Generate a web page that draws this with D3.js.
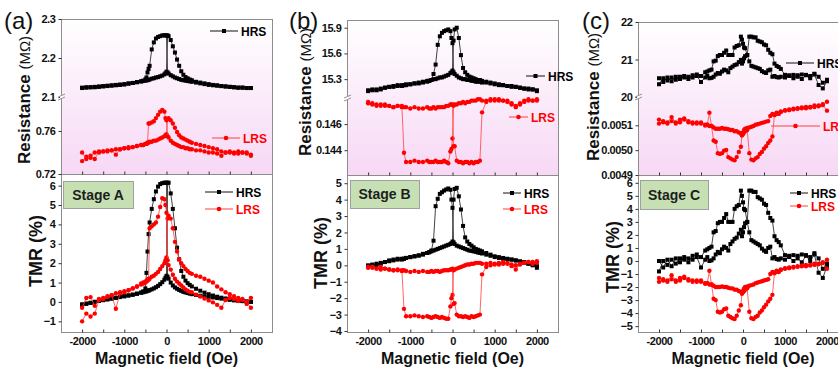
<!DOCTYPE html>
<html>
<head>
<meta charset="utf-8">
<script src="https://cdn.jsdelivr.net/npm/d3@7"></script>
<style>
  body { margin: 0; background: #fff; }
  svg { display: block; }
  text { font-family: Arial, "Liberation Sans", sans-serif; }
</style>
</head>
<body>
<svg id="canvas" width="838" height="371"></svg>
<script>
// ---------- Panel (a) ----------
const fieldA = [
  -2000,-1900,-1800,-1700,-1600,-1500,-1400,-1300,-1200,-1100,-1000,-900,-800,-700,
  -600,-550,-500,-475,-450,-425,-400,
  -350,-300,-250,-200,-150,-100,-50,
  -25,0,25,
  50,100,150,200,250,300,350,400,450,500,550,600,
  700,800,900,1000,1100,1200,1300,1400,1500,1600,1700,1800,1900,2000];

const rHrsA_up = [
  2.124,2.125,2.125,2.126,2.127,2.128,2.129,2.130,2.131,2.132,2.133,2.135,2.136,2.138,
  2.140,2.141,2.142,2.143,2.143,2.144,2.145,
  2.147,2.148,2.150,2.151,2.153,2.155,2.158,
  2.161,2.165,2.258,
  2.256,2.246,2.230,2.214,2.196,2.180,2.166,2.157,2.151,2.148,2.145,2.143,
  2.139,2.137,2.135,2.133,2.131,2.130,2.128,2.127,2.126,2.125,2.124,2.124,2.123,2.123];
const rHrsA_dn = [
  2.123,2.124,2.125,2.125,2.126,2.127,2.128,2.129,2.130,2.131,2.132,2.134,2.136,2.138,
  2.140,2.142,2.145,2.150,2.163,2.172,2.180,
  2.222,2.240,2.250,2.254,2.256,2.258,2.258,
  2.258,2.258,2.163,
  2.160,2.156,2.153,2.150,2.148,2.146,2.144,2.143,2.142,2.141,2.140,2.139,
  2.137,2.135,2.133,2.131,2.130,2.129,2.128,2.127,2.126,2.125,2.124,2.124,2.123,2.123];
const rLrsA_up = [
  0.732,0.736,0.737,0.740,0.740,0.741,0.742,0.742,0.738,0.743,0.744,0.745,0.745,0.746,
  0.747,0.747,0.748,0.748,0.749,0.749,0.750,
  0.750,0.751,0.751,0.752,0.753,0.754,0.755,
  0.756,0.757,0.771,
  0.772,0.770,0.767,0.763,0.759,0.756,0.754,0.753,0.752,0.751,0.750,0.749,
  0.748,0.747,0.746,0.745,0.744,0.743,0.741,0.740,0.740,0.739,0.739,0.740,0.739,0.738];
const rLrsA_dn = [
  0.740,0.734,0.735,0.734,0.741,0.741,0.741,0.742,0.743,0.743,0.744,0.744,0.745,0.746,
  0.747,0.747,0.748,0.748,0.749,0.767,0.767,
  0.768,0.769,0.772,0.775,0.778,0.7795,0.778,
  0.772,0.770,0.755,
  0.754,0.751,0.749,0.748,0.747,0.746,0.745,0.745,0.744,0.744,0.743,0.743,
  0.742,0.742,0.741,0.740,0.740,0.739,0.737,0.740,0.741,0.740,0.741,0.740,0.740,0.737];

const tHrsA_up = [
  -0.15,-0.1,-0.05,0,0.05,0.1,0.14,0.18,0.22,0.26,0.3,0.34,0.38,0.43,
  0.48,0.5,0.53,0.55,0.57,0.59,0.61,
  0.65,0.7,0.76,0.83,0.92,1.02,1.15,
  1.25,1.35,6.15,
  6.15,5.6,4.8,3.8,2.8,2.2,1.6,1.3,1.1,0.97,0.88,0.8,
  0.68,0.58,0.48,0.4,0.33,0.27,0.22,0.18,0.14,0.1,0.07,0.05,0.02,0.0];
const tHrsA_dn = [
  -0.12,-0.08,-0.04,0.01,0.05,0.09,0.13,0.17,0.21,0.25,0.29,0.33,0.37,0.42,
  0.48,0.55,0.7,1.5,2.6,3.5,4.1,
  4.8,5.3,5.7,5.95,6.08,6.13,6.15,
  6.15,6.15,1.3,
  1.2,1.0,0.85,0.75,0.68,0.62,0.57,0.52,0.49,0.46,0.43,0.4,
  0.36,0.32,0.29,0.26,0.23,0.2,0.17,0.14,0.11,0.08,0.06,0.04,0.02,0.0];
const tLrsA_up = [
  -1.0,-0.6,-0.75,-0.6,0.1,0.15,0.25,0.35,-0.35,0.45,0.5,0.6,0.7,0.8,
  0.9,0.95,1.0,1.05,1.1,1.15,1.2,
  1.3,1.35,1.45,1.55,1.7,1.85,2.0,
  2.15,2.3,4.3,
  4.45,4.3,3.8,3.1,2.6,2.2,2.0,1.85,1.7,1.6,1.5,1.45,
  1.35,1.3,1.2,1.1,1.0,0.8,0.65,0.5,0.4,0.3,0.2,0.15,0.0,-0.3];
const tLrsA_dn = [
  -0.3,0.2,0.25,-0.2,0.15,0.2,0.3,0.35,0.45,0.5,0.55,0.6,0.7,0.8,
  0.95,1.0,1.05,1.1,1.15,1.2,3.8,
  3.9,4.0,4.1,4.4,4.9,5.35,5.3,
  5.0,4.6,2.15,
  1.9,1.67,1.4,1.2,1.05,0.95,0.85,0.75,0.65,0.58,0.52,0.5,
  0.38,0.28,0.18,0.08,-0.02,-0.15,-0.3,0.1,0.2,0.15,0.05,0.1,-0.1,0.2];

// ---------- Panel (b) ----------
const fieldB = [
  -2000,-1900,-1800,-1700,-1600,-1500,-1400,-1300,-1200,
  -1150,-1100,-1000,-900,-800,-700,-600,
  -550,-500,-450,-400,-350,-300,-250,-200,-150,-100,-50,-25,0,
  25,50,100,150,200,250,300,350,400,450,500,550,600,
  650,700,800,900,1000,1100,1200,1300,1400,1500,1600,1700,1800,1900,2000];

const rHrsB_up = [
  15.17,15.18,15.17,15.19,15.20,15.21,15.22,15.23,15.22,
  15.23,15.24,15.24,15.25,15.26,15.27,15.28,
  15.28,15.29,15.30,15.30,15.31,15.32,15.32,15.33,15.34,15.35,15.37,15.38,15.40,
  15.75,15.88,15.90,15.78,15.58,15.43,15.38,15.35,15.33,15.32,15.31,15.30,15.29,
  15.29,15.28,15.27,15.26,15.25,15.24,15.23,15.22,15.22,15.21,15.20,15.19,15.19,15.18,15.16];
const rHrsB_dn = [
  15.16,15.17,15.18,15.18,15.20,15.21,15.21,15.22,15.23,
  15.23,15.23,15.24,15.25,15.25,15.26,15.27,
  15.28,15.29,15.36,15.47,15.70,15.80,15.84,15.86,15.87,15.88,15.86,15.78,15.72,
  15.38,15.36,15.34,15.32,15.31,15.30,15.30,15.29,15.29,15.28,15.28,15.27,15.27,
  15.27,15.26,15.26,15.25,15.24,15.23,15.23,15.22,15.21,15.21,15.20,15.19,15.18,15.18,15.17];
const rLrsB_up = [
  0.1476,0.1475,0.1474,0.1475,0.1474,0.1474,0.1473,0.1474,0.1474,
  0.1438,0.1431,0.1431,0.1432,0.1431,0.1431,0.1432,
  0.1431,0.1431,0.1431,0.1432,0.1431,0.1431,0.1431,0.1432,0.1431,0.1430,0.1439,0.1441,0.1449,
  0.1474,0.1475,0.1475,0.1476,0.1476,0.1477,0.1476,0.1477,0.1477,0.1478,0.1478,0.1478,0.1479,
  0.1479,0.1478,0.1478,0.1479,0.1478,0.1479,0.1478,0.1478,0.1476,0.1473,0.1475,0.1477,0.1478,0.1478,0.1479];
const rLrsB_dn = [
  0.1477,0.1476,0.1475,0.1474,0.1475,0.1474,0.1473,0.1474,0.1473,
  0.1473,0.1473,0.1472,0.1473,0.1472,0.1472,0.1473,
  0.1472,0.1472,0.1473,0.1472,0.1473,0.1473,0.1473,0.1473,0.1474,0.1474,0.1475,0.1475,0.1475,
  0.1443,0.1443,0.1432,0.1431,0.1431,0.1430,0.1431,0.1431,0.1430,0.1431,0.1430,0.1431,0.1431,
  0.1432,0.1469,0.1477,0.1478,0.1479,0.1478,0.1478,0.1477,0.1475,0.1474,0.1476,0.1478,0.1479,0.1478,0.1478];

const tHrsB_up = [
  -0.05,0.05,0.0,0.15,0.2,0.3,0.35,0.4,0.35,
  0.4,0.45,0.5,0.55,0.6,0.7,0.75,
  0.8,0.85,0.9,0.95,1.0,1.05,1.1,1.15,1.2,1.25,1.3,1.35,1.45,
  4.0,4.65,4.72,4.2,3.4,2.4,1.7,1.45,1.3,1.2,1.1,1.0,0.95,
  0.9,0.85,0.75,0.65,0.55,0.5,0.45,0.4,0.35,0.3,0.2,0.15,0.1,0.0,-0.15];
const tHrsB_dn = [
  0.0,0.0,0.1,0.1,0.2,0.25,0.3,0.35,0.4,
  0.4,0.45,0.5,0.55,0.6,0.65,0.75,
  0.8,0.9,1.5,3.6,4.05,4.35,4.45,4.55,4.62,4.68,4.6,4.0,3.5,
  1.4,1.3,1.2,1.15,1.1,1.05,1.0,0.95,0.9,0.88,0.85,0.82,0.78,
  0.75,0.72,0.65,0.58,0.5,0.45,0.4,0.38,0.35,0.3,0.25,0.2,0.1,0.05,0.0];
const tLrsB_up = [
  -0.1,-0.15,-0.2,-0.1,-0.2,-0.25,-0.3,-0.25,-0.3,
  -2.65,-3.1,-3.1,-3.05,-3.1,-3.15,-3.1,
  -3.15,-3.2,-3.15,-3.1,-3.15,-3.2,-3.15,-3.2,-3.25,-3.25,-2.5,-2.0,-1.8,
  -0.3,-0.25,-0.2,-0.15,-0.1,-0.05,0.0,0.05,0.05,0.1,0.1,0.15,0.15,
  0.15,0.1,0.1,0.15,0.1,0.15,0.2,0.15,-0.05,-0.25,0.05,0.15,0.2,0.2,0.25];
const tLrsB_dn = [
  -0.15,-0.1,-0.2,-0.25,-0.2,-0.25,-0.3,-0.3,-0.35,
  -0.3,-0.35,-0.4,-0.35,-0.4,-0.35,-0.4,
  -0.4,-0.35,-0.4,-0.35,-0.35,-0.4,-0.35,-0.3,-0.3,-0.3,-0.25,-0.25,-0.2,
  -2.35,-2.3,-3.0,-3.1,-3.1,-3.15,-3.1,-3.15,-3.2,-3.1,-3.15,-3.1,-3.05,
  -3.0,-0.55,-0.1,0.0,0.05,0.05,0.1,0.1,0.05,0.0,0.1,0.15,0.2,0.1,0.15];

// ---------- Panel (c) ----------
const fieldC = [
  -2000,-1900,-1800,-1700,-1600,-1500,-1400,-1300,-1200,-1100,-1000,-900,
  -850,-800,-750,-700,-650,-600,-550,-500,-450,-400,-350,-300,-250,-200,-150,-100,-50,
  -25,0,25,
  50,100,150,200,250,300,350,400,450,500,550,600,650,700,750,800,850,900,
  1000,1100,1200,1300,1400,1500,1600,1700,1800,1900,2000];

const rHrsC_up = [
  20.34,20.50,20.44,20.52,20.46,20.54,20.52,20.48,20.58,20.60,20.56,20.66,
  20.68,20.71,20.73,20.95,20.97,21.09,21.12,21.12,21.18,21.24,21.12,21.12,21.12,21.32,21.36,21.38,21.61,
  21.53,21.42,21.32,
  21.30,21.12,20.95,20.83,20.81,20.79,20.77,20.75,20.69,20.66,20.64,20.71,20.73,20.54,20.56,20.53,20.52,20.54,
  20.52,20.56,20.50,20.54,20.48,20.58,20.50,20.60,20.32,20.23,20.42];
const rHrsC_dn = [
  20.50,20.40,20.52,20.42,20.54,20.48,20.56,20.54,20.52,20.56,20.40,20.52,
  20.56,20.50,20.51,20.54,20.60,20.64,20.62,20.68,20.73,20.71,20.66,20.77,20.81,20.85,20.87,20.93,20.99,
  20.89,20.95,21.03,
  21.09,21.12,21.61,21.61,21.59,21.59,21.50,21.48,21.46,21.40,21.38,21.26,21.18,21.14,20.89,20.83,20.80,20.75,
  20.59,20.58,20.59,20.58,20.60,20.59,20.56,20.62,20.54,20.38,20.46];
const rLrsC_up = [
  0.005123,0.005117,0.005112,0.005133,0.005112,0.005123,0.005128,0.005117,0.005112,0.005107,0.005112,0.005102,
  0.005102,0.005097,0.005097,0.005039,0.005034,0.004988,0.004985,0.004988,0.004998,0.005001,0.004972,0.004967,0.004962,0.004959,0.004972,0.004993,0.005014,
  0.005060,0.005071,0.005081,
  0.005086,0.005089,0.005091,0.005094,0.005097,0.005102,0.005104,0.005107,0.005110,0.005112,0.005115,0.005117,0.005138,0.005146,0.005141,0.005148,0.005146,0.005154,
  0.005159,0.005161,0.005164,0.005167,0.005169,0.005169,0.005172,0.005174,0.005177,0.005182,0.005159];
const rLrsC_dn = [
  0.005107,0.005112,0.005107,0.005117,0.005107,0.005112,0.005123,0.005112,0.005107,0.005112,0.005107,0.005099,
  0.005102,0.005151,0.005097,0.005091,0.005086,0.005086,0.005086,0.005089,0.005086,0.005086,0.005084,0.005081,0.005081,0.005076,0.005076,0.005071,0.005068,
  0.005060,0.005065,0.005071,
  0.005076,0.005081,0.004988,0.004962,0.004959,0.004967,0.004972,0.004985,0.004993,0.005006,0.005016,0.005029,0.005039,0.005055,0.005143,0.005151,0.005148,0.005156,
  0.005161,0.005164,0.005167,0.005169,0.005172,0.005174,0.005174,0.005180,0.005180,0.005185,0.005195];

const tHrsC_up = [
  -0.8,0.0,-0.3,0.1,-0.2,0.2,0.1,-0.1,0.4,0.5,0.3,0.8,
  0.9,1.0,1.1,2.2,2.3,2.9,3.0,3.0,3.3,3.6,3.0,3.0,3.0,4.0,4.2,4.3,5.4,
  5.0,4.5,4.0,
  3.9,3.0,2.2,1.6,1.5,1.4,1.3,1.2,0.95,0.8,0.7,1.0,1.1,0.2,0.3,0.15,0.1,0.2,
  0.1,0.3,0.0,0.2,-0.1,0.4,0.0,0.5,-0.9,-1.3,-0.4];
const tHrsC_dn = [
  0.0,-0.5,0.1,-0.4,0.2,-0.1,0.3,0.2,0.1,0.3,-0.5,0.1,
  0.3,0.0,0.05,0.2,0.5,0.7,0.6,0.9,1.1,1.0,0.8,1.3,1.5,1.7,1.8,2.1,2.4,
  1.9,2.2,2.6,
  2.9,3.0,5.4,5.4,5.3,5.3,4.9,4.8,4.7,4.4,4.3,3.7,3.3,3.1,1.9,1.6,1.45,1.2,
  0.45,0.4,0.45,0.4,0.5,0.45,0.3,0.6,0.2,-0.6,-0.2];
const tLrsC_up = [
  -1.3,-1.4,-1.5,-1.1,-1.5,-1.3,-1.2,-1.4,-1.5,-1.6,-1.5,-1.7,
  -1.7,-1.8,-1.8,-2.9,-3.0,-3.9,-3.95,-3.9,-3.7,-3.65,-4.2,-4.3,-4.4,-4.45,-4.2,-3.8,-3.4,
  -2.5,-2.3,-2.1,
  -2.0,-1.95,-1.9,-1.85,-1.8,-1.7,-1.65,-1.6,-1.55,-1.5,-1.45,-1.4,-1.0,-0.85,-0.95,-0.8,-0.85,-0.7,
  -0.6,-0.55,-0.5,-0.45,-0.4,-0.4,-0.35,-0.3,-0.25,-0.15,-0.6];
const tLrsC_dn = [
  -1.6,-1.5,-1.6,-1.4,-1.6,-1.5,-1.3,-1.5,-1.6,-1.5,-1.6,-1.75,
  -1.7,-0.75,-1.8,-1.9,-2.0,-2.0,-2.0,-1.95,-2.0,-2.0,-2.05,-2.1,-2.1,-2.2,-2.2,-2.3,-2.35,
  -2.5,-2.4,-2.3,
  -2.2,-2.1,-3.9,-4.4,-4.45,-4.3,-4.2,-3.95,-3.8,-3.55,-3.35,-3.1,-2.9,-2.6,-0.9,-0.75,-0.8,-0.65,
  -0.55,-0.5,-0.45,-0.4,-0.35,-0.3,-0.3,-0.2,-0.2,-0.1,0.1];

// ---------- ticks ----------
const xTicks = [-2000,-1500,-1000,-500,0,500,1000,1500,2000];
const xLabels = [-2000,-1000,0,1000,2000];
const upperTicksA = [2.1,2.2,2.3], lowerTicksA = [0.72,0.76], tmrTicksA = [-1,0,1,2,3,4,5,6];
const upperTicksB = [15.3,15.6,15.9], lowerTicksB = [0.144,0.146], tmrTicksB = [-4,-3,-2,-1,0,1,2,3,4,5];
const upperTicksC = [20,21,22], lowerTicksC = [0.0049,0.0050,0.0051], tmrTicksC = [-5,-4,-3,-2,-1,0,1,2,3,4,5,6];

const panels = [
  { label: "(a)", labelX: 4, stage: "Stage A",
    x0: 61, x1: 272, yTop: 19, yBrk: 97, yMid: 174, yBot: 332,
    upper: [2.1, 2.3], lower: [0.72, 0.7916], tmr: [-1.55, 6.6],
    upT: upperTicksA, loT: lowerTicksA, tmT: tmrTicksA, upF: ".1f", loF: ".2f",
    field: fieldA, rH: [rHrsA_up, rHrsA_dn], rL: [rLrsA_up, rLrsA_dn], tH: [tHrsA_up, tHrsA_dn], tL: [tLrsA_up, tLrsA_dn],
    resX: 30, resY: 100, tmrX: 42, tmrY: 251,
    legTop: [[210, 238, 31], [212, 240, 138]], legBot: [[205, 233, 192], [205, 233, 209]],
    box: [63, 181, 70, 27] },
  { label: "(b)", labelX: 289, stage: "Stage B",
    x0: 347, x1: 558, yTop: 20, yBrk: 98, yMid: 175, yBot: 332,
    upper: [15.08, 15.99], lower: [0.1421, 0.148], tmr: [-4.06, 5.5],
    upT: upperTicksB, loT: lowerTicksB, tmT: tmrTicksB, upF: ".1f", loF: ".3f",
    field: fieldB, rH: [rHrsB_up, rHrsB_dn], rL: [rLrsB_up, rLrsB_dn], tH: [tHrsB_up, tHrsB_dn], tL: [tLrsB_up, tLrsB_dn],
    resX: 311, resY: 92, tmrX: 327, tmrY: 253,
    legTop: [[526, 545, 76], [509, 528, 117]], legBot: [[503, 521, 193], [503, 521, 209]],
    box: [350, 180, 69, 28] },
  { label: "(c)", labelX: 582, stage: "Stage C",
    x0: 638, x1: 848, yTop: 22, yBrk: 97, yMid: 175, yBot: 332,
    upper: [20, 22], lower: [0.0049, 0.005214], tmr: [-5.45, 6.6],
    upT: upperTicksC, loT: lowerTicksC, tmT: tmrTicksC, upF: ".0f", loF: ".4f",
    field: fieldC, rH: [rHrsC_up, rHrsC_dn], rL: [rLrsC_up, rLrsC_dn], tH: [tHrsC_up, tHrsC_dn], tL: [tLrsC_up, tLrsC_dn],
    resX: 599, resY: 97, tmrX: 619, tmrY: 257,
    legTop: [[786, 814, 63], [771, 820, 126]], legBot: [[790, 808, 193], [790, 808, 206]],
    box: [640, 180, 68, 29] }
];

const svg = d3.select("#canvas");
const defs = svg.append("defs");
const grad = defs.append("linearGradient").attr("id", "pink").attr("x1", 0).attr("y1", 0).attr("x2", 0).attr("y2", 1);
grad.append("stop").attr("offset", "0%").attr("stop-color", "#ffffff");
grad.append("stop").attr("offset", "100%").attr("stop-color", "#f7d8f5");

const frameColor = "#8c8c8c";
const styleH = { line: "#111", fill: "#000", shape: "square" };
const styleL = { line: "#ff4040", fill: "#ff0000", shape: "circle" };

function drawSeries(g, field, values, x, y, st) {
  const pts = field.map((h, i) => [h, values[i]]);
  g.append("path").datum(pts)
    .attr("d", d3.line().x(d => x(d[0])).y(d => y(d[1])))
    .attr("fill", "none").attr("stroke", st.line).attr("stroke-width", 0.8);
  if (st.shape === "square") {
    g.selectAll(null).data(pts).join("rect")
      .attr("x", d => x(d[0]) - 2).attr("y", d => y(d[1]) - 2)
      .attr("width", 4).attr("height", 4).attr("fill", st.fill);
  } else {
    g.selectAll(null).data(pts).join("circle")
      .attr("cx", d => x(d[0])).attr("cy", d => y(d[1]))
      .attr("r", 2.2).attr("fill", st.fill);
  }
}

function legend(item, text, st) {
  const [a, b, yy] = item;
  svg.append("line").attr("x1", a).attr("x2", b).attr("y1", yy).attr("y2", yy)
    .attr("stroke", st.line).attr("stroke-width", 1);
  const m = (a + b) / 2;
  if (st.shape === "square") {
    svg.append("rect").attr("x", m - 2).attr("y", yy - 2).attr("width", 4).attr("height", 4).attr("fill", st.fill);
  } else {
    svg.append("circle").attr("cx", m).attr("cy", yy).attr("r", 2.3).attr("fill", st.fill);
  }
  svg.append("text").attr("x", b + 3).attr("y", yy + 4.5)
    .attr("font-size", 12).attr("font-weight", "bold")
    .attr("fill", st.shape === "square" ? "#000" : "#ff0000").text(text);
}

function styleAxis(g) {
  g.select(".domain").remove();
  g.selectAll(".tick line").attr("stroke", "#333");
  g.selectAll(".tick text").attr("font-size", 11).attr("font-weight", "bold")
    .attr("fill", "#111").attr("font-family", "Arial, 'Liberation Sans', sans-serif")
    .attr("letter-spacing", "-0.4");
}

panels.forEach((p, k) => {
  const x = d3.scaleLinear([-2500, 2500], [p.x0, p.x1]);
  const yUp = d3.scaleLinear(p.upper, [p.yBrk, p.yTop]);
  const yLo = d3.scaleLinear(p.lower, [p.yMid, p.yBrk]);
  const yT = d3.scaleLinear(p.tmr, [p.yBot, p.yMid]);

  // backgrounds
  svg.append("rect").attr("x", p.x0).attr("y", p.yTop).attr("width", p.x1 - p.x0)
    .attr("height", p.yMid - p.yTop).attr("fill", "url(#pink)");

  // clips
  const cTop = "clipTop" + k, cBot = "clipBot" + k;
  defs.append("clipPath").attr("id", cTop).append("rect")
    .attr("x", p.x0).attr("y", p.yTop).attr("width", p.x1 - p.x0).attr("height", p.yMid - p.yTop);
  defs.append("clipPath").attr("id", cBot).append("rect")
    .attr("x", p.x0).attr("y", p.yMid).attr("width", p.x1 - p.x0).attr("height", p.yBot - p.yMid);

  const gTop = svg.append("g").attr("clip-path", `url(#${cTop})`);
  p.rH.forEach(v => drawSeries(gTop, p.field, v, x, yUp, styleH));
  p.rL.forEach(v => drawSeries(gTop, p.field, v, x, yLo, styleL));

  const gBot = svg.append("g").attr("clip-path", `url(#${cBot})`);
  p.tH.forEach(v => drawSeries(gBot, p.field, v, x, yT, styleH));
  p.tL.forEach(v => drawSeries(gBot, p.field, v, x, yT, styleL));

  // frames
  [[p.yTop, p.yMid], [p.yMid, p.yBot]].forEach(([a, b]) => {
    svg.append("rect").attr("x", p.x0 + 0.5).attr("y", a + 0.5)
      .attr("width", p.x1 - p.x0).attr("height", b - a)
      .attr("fill", "none").attr("stroke", frameColor).attr("stroke-width", 1);
  });

  // y axes
  const ax1 = svg.append("g").attr("transform", `translate(${p.x0 + 0.5},0)`)
    .call(d3.axisLeft(yUp).tickValues(p.upT).tickFormat(d3.format(p.upF)).tickSizeInner(3).tickSizeOuter(0).tickPadding(3));
  styleAxis(ax1);
  const ax2 = svg.append("g").attr("transform", `translate(${p.x0 + 0.5},0)`)
    .call(d3.axisLeft(yLo).tickValues(p.loT).tickFormat(d3.format(p.loF)).tickSizeInner(3).tickSizeOuter(0).tickPadding(3));
  styleAxis(ax2);
  const ax3 = svg.append("g").attr("transform", `translate(${p.x0 + 0.5},0)`)
    .call(d3.axisLeft(yT).tickValues(p.tmT).tickFormat(d3.format("d")).tickSizeInner(3).tickSizeOuter(0).tickPadding(3));
  styleAxis(ax3);

  // axis break mark
  svg.append("rect").attr("x", p.x0 - 1).attr("y", p.yBrk - 2).attr("width", 3).attr("height", 4).attr("fill", "#fff");
  [-1.5, 1.5].forEach(o => {
    svg.append("path").attr("d", `M${p.x0 - 3},${p.yBrk + o + 1.5} L${p.x0 + 4},${p.yBrk + o - 1.5}`)
      .attr("stroke", "#777").attr("stroke-width", 0.8).attr("fill", "none");
  });

  // x axes (inward ticks)
  const axT = svg.append("g").attr("transform", `translate(0,${p.yMid + 0.5})`)
    .call(d3.axisBottom(x).tickValues(xTicks).tickSizeInner(-3).tickSizeOuter(0).tickFormat(""));
  styleAxis(axT);
  const axB = svg.append("g").attr("transform", `translate(0,${p.yBot + 0.5})`)
    .call(d3.axisBottom(x).tickValues(xTicks).tickSizeInner(-3).tickSizeOuter(0).tickPadding(5)
      .tickFormat(d => xLabels.includes(d) ? d : ""));
  styleAxis(axB);

  // titles
  const rt = svg.append("text").attr("transform", `translate(${p.resX},${p.resY}) rotate(-90)`)
    .attr("text-anchor", "middle").attr("fill", "#111");
  rt.append("tspan").attr("font-size", 17).attr("font-weight", "bold").text("Resistance ");
  rt.append("tspan").attr("font-size", 15).text("(MΩ)");
  svg.append("text").attr("transform", `translate(${p.tmrX},${p.tmrY}) rotate(-90)`)
    .attr("text-anchor", "middle").attr("font-size", 18).attr("font-weight", "bold")
    .attr("fill", "#111").text("TMR (%)");
  svg.append("text").attr("x", x(0)).attr("y", 364).attr("text-anchor", "middle")
    .attr("font-size", 16).attr("font-weight", "bold").attr("fill", "#111").text("Magnetic field (Oe)");
  svg.append("text").attr("x", p.labelX).attr("y", 29).attr("font-size", 24)
    .attr("fill", "#111").text(p.label);

  // stage box
  const [bx, by, bw, bh] = p.box;
  svg.append("rect").attr("x", bx + 0.5).attr("y", by + 0.5).attr("width", bw).attr("height", bh)
    .attr("fill", "#c6e0b4").attr("stroke", "#a0a0a0").attr("stroke-width", 1);
  svg.append("text").attr("x", bx + bw / 2).attr("y", by + bh / 2 + 5).attr("text-anchor", "middle")
    .attr("font-size", 14).attr("font-weight", "bold").attr("fill", "#1e1e1e").text(p.stage);

  // legends
  legend(p.legTop[0], "HRS", styleH);
  legend(p.legTop[1], "LRS", styleL);
  legend(p.legBot[0], "HRS", styleH);
  legend(p.legBot[1], "LRS", styleL);
});
</script>
</body>
</html>
